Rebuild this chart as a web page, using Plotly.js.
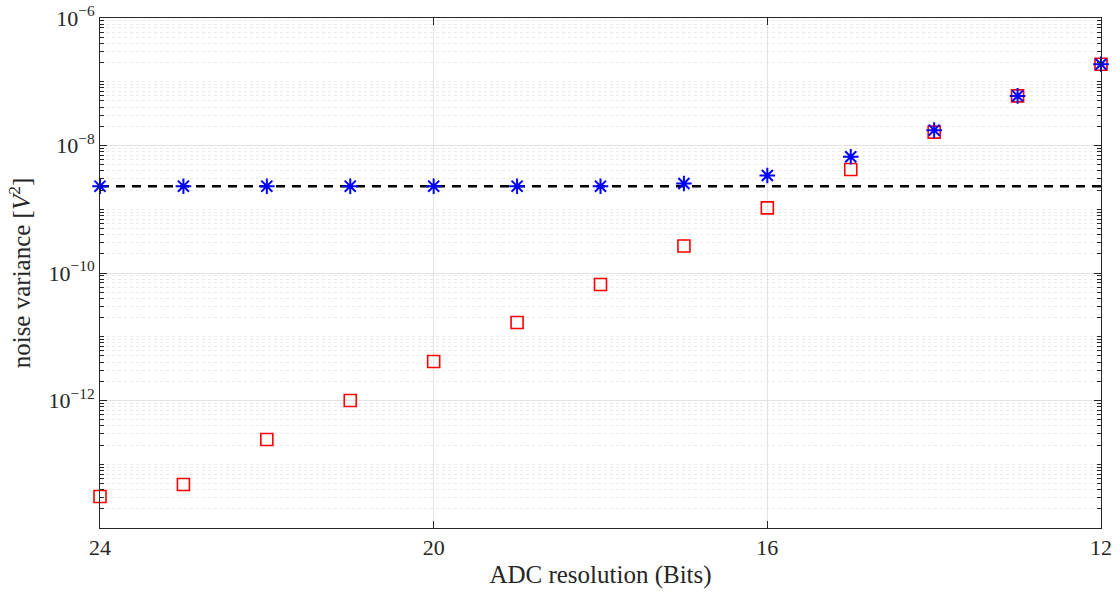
<!DOCTYPE html>
<html>
<head>
<meta charset="utf-8">
<script src="https://cdn.plot.ly/plotly-3.0.1.min.js"></script>
<style>html,body{margin:0;padding:0;background:#fff;}#chart{width:1120px;height:593px;}</style>
</head>
<body>
<div id="chart"></div>
<script>
const bits = [24, 23, 22, 21, 20, 19, 18, 17, 16, 15, 14, 13, 12];
const quantNoise = [3.12e-14, 4.8e-14, 2.45e-13, 1.0e-12, 4.1e-12, 1.67e-11, 6.6e-11, 2.65e-10, 1.05e-9, 4.2e-9, 1.62e-8, 6.0e-8, 1.88e-7];
const totalNoise = [2.3e-9, 2.3e-9, 2.3e-9, 2.3e-9, 2.3e-9, 2.3e-9, 2.3e-9, 2.53e-9, 3.39e-9, 6.65e-9, 1.74e-8, 6.0e-8, 1.88e-7];
const floorLevel = 2.3e-9;
const floorX = [24, 12];
const yTickVals = [1e-12, 1e-10, 1e-8, 1e-6];
const yTickText = ['10<sup>−12</sup>', '10<sup>−10</sup>', '10<sup>−8</sup>', '10<sup>−6</sup>'];
const xTickVals = [24, 20, 16, 12];

const font = 'Liberation Serif, DejaVu Serif, serif';
const traces = [
  {x: floorX, y: [floorLevel, floorLevel], mode: 'lines', line: {color: '#000', width: 2.5, dash: '9px,7px'}, hoverinfo: 'skip', cliponaxis: false},
  {x: bits, y: quantNoise, mode: 'markers', marker: {symbol: 'square-open', size: 12, color: '#ff0000', line: {color: '#ff0000', width: 1.6}}, cliponaxis: false},
  {x: bits, y: totalNoise, mode: 'markers', marker: {symbol: 'asterisk-open', size: 13, color: '#0000ff', line: {color: '#0000ff', width: 2}}, cliponaxis: false}
];
const layout = {
  width: 1120, height: 593,
  margin: {l: 100, r: 19, t: 18, b: 65},
  paper_bgcolor: '#fff', plot_bgcolor: '#fff',
  showlegend: false,
  font: {family: font, color: '#262626', size: 20},
  xaxis: {
    range: [24, 12], tickvals: xTickVals, ticktext: xTickVals.map(String),
    ticks: 'inside', ticklen: 7, tickcolor: '#262626', mirror: 'ticks',
    showline: true, linecolor: '#262626', linewidth: 1,
    showgrid: true, gridcolor: '#e3e3e3', gridwidth: 1, zeroline: false,
    tickfont: {size: 22, family: font, color: '#262626'},
    title: {text: 'ADC resolution (Bits)', font: {size: 25, family: font, color: '#262626'}, standoff: 6}
  },
  yaxis: {
    type: 'log', range: [-14, -6], tickvals: yTickVals, ticktext: yTickText,
    ticks: 'inside', ticklen: 7, tickcolor: '#262626', mirror: 'ticks',
    showline: true, linecolor: '#262626', linewidth: 1,
    showgrid: true, gridcolor: '#e3e3e3', gridwidth: 1, zeroline: false,
    tickfont: {size: 22, family: font, color: '#262626'},
    minor: {dtick: 'D1', ticks: 'inside', ticklen: 4, tickcolor: '#262626', showgrid: true, gridcolor: '#ebebeb', griddash: 'dot', gridwidth: 1},
    title: {text: 'noise variance [<i>V</i><sup>2</sup>]', font: {size: 25, family: font, color: '#262626'}, standoff: 10}
  }
};
Plotly.newPlot('chart', traces, layout, {displayModeBar: false, staticPlot: true});
</script>
</body>
</html>
